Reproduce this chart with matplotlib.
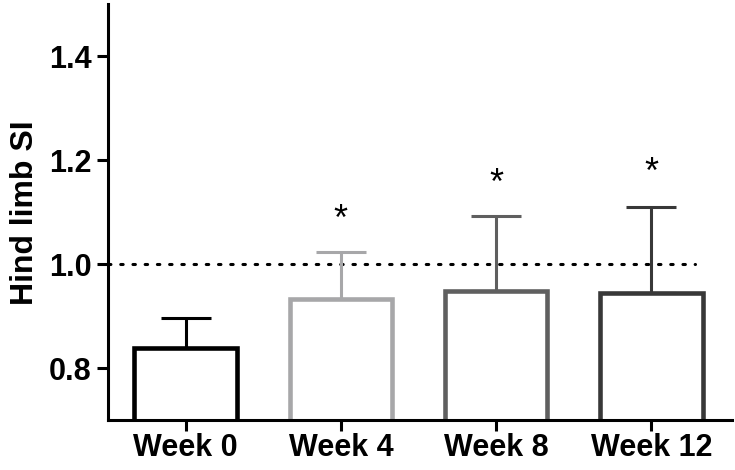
import matplotlib.pyplot as plt

# data
weeks = ["Week 0", "Week 4", "Week 8", "Week 12"]
means = [0.838, 0.933, 0.949, 0.945]
upper_err = [0.058, 0.090, 0.144, 0.165]
star_y = [None, 1.092, 1.162, 1.182]
colors = ["#000000", "#a7a7a9", "#5f5f5f", "#383838"]

plt.rcParams['font.family'] = ['Liberation Sans', 'DejaVu Sans']
plt.rcParams['font.weight'] = 'bold'

fig = plt.figure(figsize=(7.35, 4.7), dpi=100)
ax = fig.add_axes([0.147, 0.106, 0.849, 0.885])

x = list(range(len(weeks)))

# error bars (upper only), drawn behind the bars
for i in x:
    ax.errorbar(i, means[i], yerr=[[0], [upper_err[i]]], color=colors[i],
                elinewidth=2.2, capsize=18, capthick=2.2, zorder=1)

ax.bar(x, means, width=0.66, color="white", edgecolor=colors,
       linewidth=3.3, zorder=2)

# reference line at 1.0
ax.plot([-0.5, 3.28], [1.0, 1.0], linestyle=(0, (0.8, 3.2)), color="black",
        linewidth=2.2, dash_capstyle="round", zorder=0)

for i in x:
    if star_y[i] is not None:
        ax.text(i, star_y[i], "*", ha="center", va="center_baseline",
                fontsize=26, fontweight="normal")

ax.set_xlim(-0.5, 3.52)
ax.set_ylim(0.7, 1.5)
ax.set_yticks([0.8, 1.0, 1.2, 1.4])
ax.set_xticks(x)
ax.set_xticklabels(weeks)
ax.set_ylabel("Hind limb SI", fontsize=23, fontweight="bold", labelpad=6)

for side in ["top", "right"]:
    ax.spines[side].set_visible(False)
for side in ["left", "bottom"]:
    ax.spines[side].set_linewidth(2.2)
ax.tick_params(axis="both", width=2.2, length=8, labelsize=22, pad=4)
ax.tick_params(axis="x", pad=1)

fig.savefig("out.png", dpi=100)
